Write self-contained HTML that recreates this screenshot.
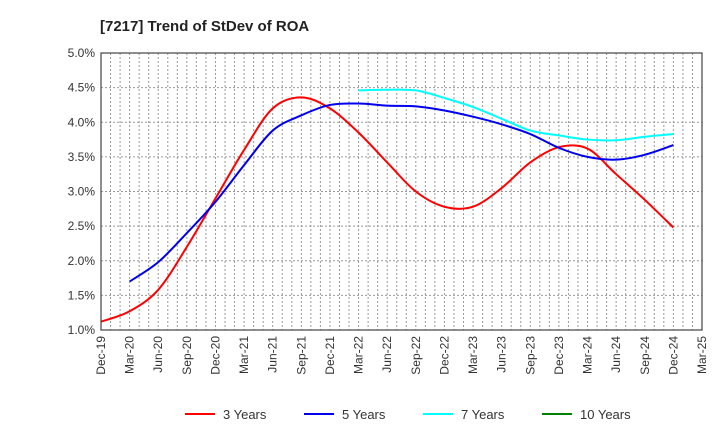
<!DOCTYPE html>
<html><head><meta charset="utf-8"><style>
body{margin:0;background:#fff;font-family:"Liberation Sans",sans-serif}
</style></head><body>
<svg id="c" width="720" height="440" xmlns="http://www.w3.org/2000/svg">
<text x="100" y="31" font-size="15" font-weight="bold" fill="#222">[7217]  Trend of StDev of ROA</text>
<g id="grid"></g><g id="series"></g><g id="axes"></g><g id="legend"></g>
</svg>
<script>
const xLabels=["Dec-19","Mar-20","Jun-20","Sep-20","Dec-20","Mar-21","Jun-21","Sep-21","Dec-21","Mar-22","Jun-22","Sep-22","Dec-22","Mar-23","Jun-23","Sep-23","Dec-23","Mar-24","Jun-24","Sep-24","Dec-24","Mar-25"];
const yTicks=[1.0,1.5,2.0,2.5,3.0,3.5,4.0,4.5,5.0];
const y3=[1.12,1.27,1.58,2.2,2.9,3.6,4.2,4.36,4.2,3.85,3.42,3.0,2.78,2.78,3.05,3.42,3.64,3.62,3.25,2.88,2.48];
const y5=[null,1.7,1.98,2.4,2.85,3.38,3.88,4.1,4.25,4.27,4.24,4.23,4.17,4.08,3.97,3.83,3.63,3.5,3.46,3.53,3.67];
const y7=[null,null,null,null,null,null,null,null,null,4.46,4.47,4.46,4.35,4.22,4.05,3.88,3.81,3.75,3.74,3.79,3.83];
const y10=[];
const L=101,R=702,T=53,B=330;
const X=i=>L+(R-L)*i/(xLabels.length-1);
const Y=v=>B-(v-1)/(4)*(B-T);
const NS="http://www.w3.org/2000/svg";
function mk(p,tag,at){const e=document.createElementNS(NS,tag);for(const k in at)e.setAttribute(k,at[k]);p.appendChild(e);return e;}
const g=document.getElementById('grid'),ax=document.getElementById('axes'),sg=document.getElementById('series'),lg=document.getElementById('legend');
for(let m=1;m<63;m++){const x=L+(R-L)*m/63;const l=mk(g,'line',{x1:x,x2:x,y1:T,y2:B,stroke:'#999','stroke-dasharray':'2,2','stroke-width':1});

}
yTicks.forEach(v=>{const l=mk(g,'line',{x1:L,x2:R,y1:Y(v),y2:Y(v),stroke:'#999','stroke-dasharray':'2,2','stroke-width':1});


const t=mk(ax,'text',{x:L-6,y:Y(v)+4,'font-size':12,'text-anchor':'end',fill:'#333'});t.textContent=v.toFixed(1)+'%';

});
const fr=mk(ax,'rect',{x:L,y:T,width:R-L,height:B-T,fill:'none',stroke:'#444','stroke-width':1.2});


xLabels.forEach((s,i)=>{const x=X(i)+4,y=B+6;const t=mk(ax,'text',{x:x,y:y,'font-size':12,'text-anchor':'end',fill:'#333',transform:`rotate(-90 ${x} ${y})`});t.textContent=s;

});
function path(arr){const p=[];arr.forEach((v,i)=>{if(v!=null)p.push([X(i),Y(v)]);});if(p.length<2)return '';
let d=`M${p[0][0]},${p[0][1]}`;for(let i=0;i<p.length-1;i++){const p0=p[i-1]||p[i],p1=p[i],p2=p[i+1],p3=p[i+2]||p2;
d+=` C${p1[0]+(p2[0]-p0[0])/6},${p1[1]+(p2[1]-p0[1])/6} ${p2[0]-(p3[0]-p1[0])/6},${p2[1]-(p3[1]-p1[1])/6} ${p2[0]},${p2[1]}`;}return d;}
const series=[[y3,'#ff0000','3 Years','series-3-years'],[y5,'#0000ee','5 Years','series-5-years'],[y7,'#00ffff','7 Years','series-7-years'],[y10,'#008000','10 Years','series-10-years']];
series.forEach(([a,c,n,id],k)=>{const d=path(a);if(d){const e=mk(sg,'path',{d:d,fill:'none',stroke:c,'stroke-width':2});

}
const lx=[185,304,423,542][k];
const gl=mk(lg,'g',{});


mk(gl,'line',{x1:lx,x2:lx+30,y1:414,y2:414,stroke:c,'stroke-width':2});
const t=mk(gl,'text',{x:lx+38,y:419,'font-size':13,fill:'#333'});t.textContent=n;});
</script>
</body></html>
